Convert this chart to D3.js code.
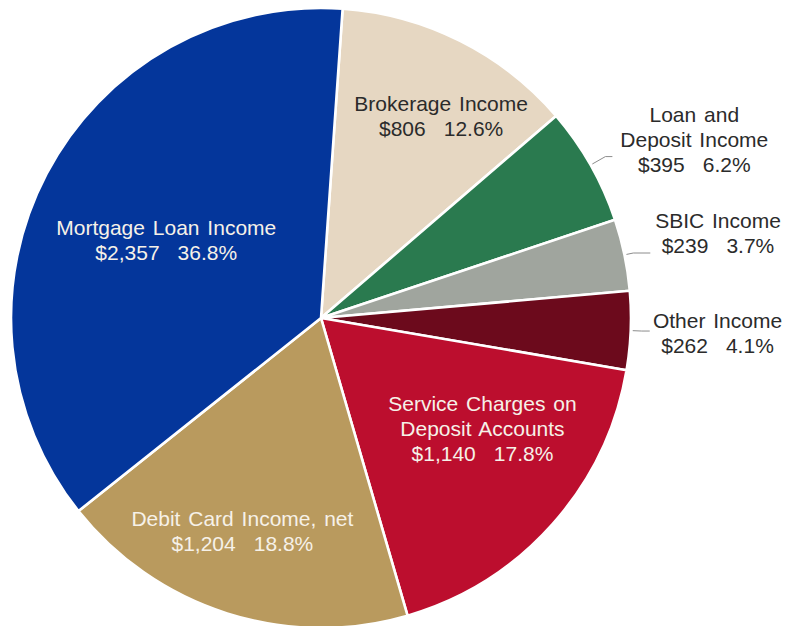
<!DOCTYPE html>
<html>
<head>
<meta charset="utf-8">
<script src="https://cdn.jsdelivr.net/npm/d3@7"></script>
<style>
  html, body { margin: 0; padding: 0; background: #ffffff; }
  svg { display: block; }
  text { font-family: "Liberation Sans", Arial, sans-serif; }
</style>
</head>
<body>
<svg id="chart" width="789" height="626"></svg>
<script>
// Noninterest income by source ($ thousands and share of total)
const categories = [
  ["Brokerage Income"],
  ["Loan and", "Deposit Income"],
  ["SBIC Income"],
  ["Other Income"],
  ["Service Charges on", "Deposit Accounts"],
  ["Debit Card Income, net"],
  ["Mortgage Loan Income"]
];
const values = [806, 395, 239, 262, 1140, 1204, 2357];
const valueLabels = ["$806", "$395", "$239", "$262", "$1,140", "$1,204", "$2,357"];
const percentLabels = ["12.6%", "6.2%", "3.7%", "4.1%", "17.8%", "18.8%", "36.8%"];
const colors = ["#e6d7c2", "#2a7a4f", "#a0a59e", "#6c0a1c", "#bc0e2e", "#b99a5e", "#04369b"];

const svg = d3.select("#chart");
const cx = 321, cy = 318, R = 310;
const deg = Math.PI / 180;
const startAngle = 4 * deg;

// Label placement per slice: inside labels sit at a fraction of the radius,
// outside labels get a small elbow leader line.
const placement = [
  { inside: true,  r: 0.76, shift: 4,   fill: "#2b2b2b" },
  { inside: false, r: 1.335, shift: 4,  fill: "#2b2b2b", elbow: 17, tail: 7 },
  { inside: false, r: 1.31, shift: -0.4, fill: "#2b2b2b", elbow: 9, tail: 17 },
  { inside: false, r: 1.28, shift: -0.2, fill: "#2b2b2b", elbow: 11, tail: 8 },
  { inside: true,  r: 0.63, shift: -7.5, fill: "#f6f1e8" },
  { inside: true,  r: 0.73, shift: 2.7, fill: "#f6f1e8" },
  { inside: true,  r: 0.56, shift: -0.8, fill: "#f6f1e8" }
];

const pie = d3.pie()
  .value(d => d)
  .sort(null)
  .startAngle(startAngle)
  .endAngle(startAngle + 2 * Math.PI);

const arcs = pie(values);
const arc = d3.arc().innerRadius(0).outerRadius(R);

const g = svg.append("g").attr("transform", `translate(${cx},${cy})`);

g.selectAll("path.slice")
  .data(arcs)
  .join("path")
  .attr("class", "slice")
  .attr("d", arc)
  .attr("fill", (d, i) => colors[i])
  .attr("stroke", "#ffffff")
  .attr("stroke-width", 2.6)
  .attr("stroke-linejoin", "round");

const polar = (a, r) => [r * Math.sin(a), -r * Math.cos(a)];
const lineH = 25;
const fontSize = 21;

arcs.forEach((d, i) => {
  const p = placement[i];
  const mid = (d.startAngle + d.endAngle) / 2;
  const a = mid + p.shift * deg;
  const [lx, ly] = polar(a, p.r * R);
  const lines = categories[i].length + 1;
  const top = ly - (lines - 1) * lineH / 2;

  const t = g.append("text")
    .attr("text-anchor", "middle")
    .attr("font-size", fontSize)
    .attr("fill", p.fill)
    .attr("dominant-baseline", "central")
    .style("word-spacing", "2px");

  categories[i].forEach((name, k) => {
    t.append("tspan").attr("x", lx).attr("y", top + k * lineH).text(name);
  });
  const k = categories[i].length;
  t.append("tspan").attr("x", lx).attr("y", top + k * lineH).text(valueLabels[i]);
  t.append("tspan").attr("dx", 18).text(percentLabels[i]);

  if (!p.inside) {
    const s = polar(mid, R + 2);
    const e = polar(mid, R + p.elbow);
    const path = d3.path();
    path.moveTo(s[0], s[1]);
    path.lineTo(e[0], e[1]);
    path.lineTo(e[0] + p.tail, e[1]);
    g.append("path")
      .attr("d", path.toString())
      .attr("fill", "none")
      .attr("stroke", "#8c8c8c")
      .attr("stroke-width", 1);
  }
});
</script>
</body>
</html>
